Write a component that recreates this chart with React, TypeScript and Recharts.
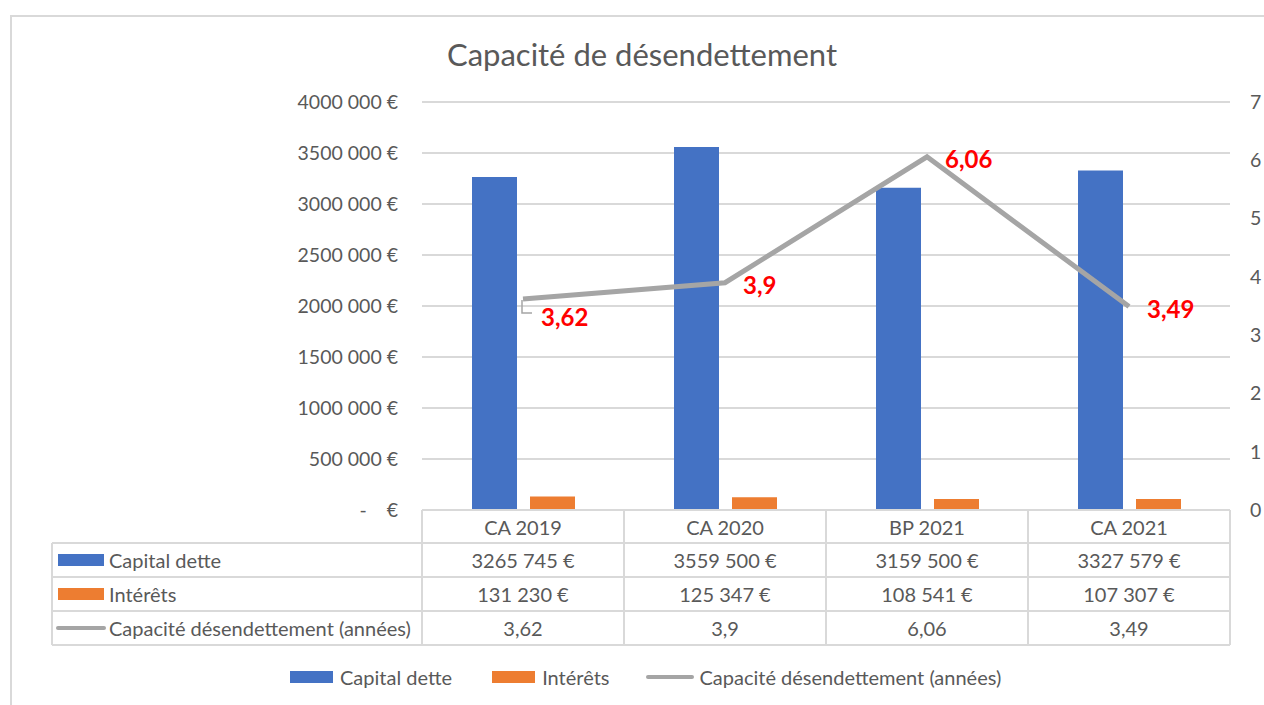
import { ComposedChart, Bar, Line, XAxis, YAxis, CartesianGrid, Legend, LabelList } from 'recharts'

const categories = ['CA 2019', 'CA 2020', 'BP 2021', 'CA 2021']
const capitalDette = [3265745, 3559500, 3159500, 3327579]
const interets = [131230, 125347, 108541, 107307]
const capacite = [3.62, 3.9, 6.06, 3.49]
const leftTicks = [0, 500000, 1000000, 1500000, 2000000, 2500000, 3000000, 3500000, 4000000]
const rightTicks = [0, 1, 2, 3, 4, 5, 6, 7]

const BLUE = '#4472c4'
const ORANGE = '#ed7d31'
const GRAY = '#a5a5a5'
const TEXT = '#595959'
const BORDER = '#d9d9d9'
const FONT = 'Lato, "Open Sans", sans-serif'

const data = categories.map((name, i) => ({
    name,
    capital: capitalDette[i],
    interets: interets[i],
    capacite: capacite[i],
}))

const euro = (n: number) => {
    if (n === 0) return '-\u00a0\u00a0\u00a0\u00a0€'
    const s = String(Math.round(n))
    return s.slice(0, -3) + ' ' + s.slice(-3) + ' €'
}

const dec = (v: number) => String(v).replace('.', ',')

const ROW_H = [33, 34, 34, 34]
const HEADER_W = 370

function TableTick(props: any) {
    const { payload, index, width } = props
    const cx = payload.coordinate
    const band = width / categories.length
    const x0 = cx - band / 2
    const x1 = cx + band / 2
    const top = 510
    const rows = [top, top + ROW_H[0], top + ROW_H[0] + ROW_H[1], top + ROW_H[0] + ROW_H[1] + ROW_H[2], top + 135]
    const values = [categories[index], euro(capitalDette[index]), euro(interets[index]), dec(capacite[index])]
    const hx = x0 - HEADER_W
    return (
        <g>
            {rows.map((ry, i) => (
                <line key={i} x1={x0} x2={x1} y1={ry} y2={ry} stroke={BORDER} strokeWidth={2} />
            ))}
            <line x1={x0} x2={x0} y1={rows[0]} y2={rows[4]} stroke={BORDER} strokeWidth={2} />
            <line x1={x1} x2={x1} y1={rows[0]} y2={rows[4]} stroke={BORDER} strokeWidth={2} />
            {values.map((v, i) => (
                <text key={i} x={cx} y={(rows[i] + rows[i + 1]) / 2} textAnchor="middle" dominantBaseline="central"
                    fill={TEXT} fontSize={20} fontFamily={FONT}>{v}</text>
            ))}
            {index === 0 && (
                <g>
                    {rows.slice(1).map((ry, i) => (
                        <line key={i} x1={hx} x2={x0} y1={ry} y2={ry} stroke={BORDER} strokeWidth={2} />
                    ))}
                    <line x1={hx} x2={hx} y1={rows[1]} y2={rows[4]} stroke={BORDER} strokeWidth={2} />
                    <rect x={hx + 6} y={(rows[1] + rows[2]) / 2 - 6} width={46} height={12} fill={BLUE} />
                    <rect x={hx + 6} y={(rows[2] + rows[3]) / 2 - 6} width={46} height={12} fill={ORANGE} />
                    <line x1={hx + 6} x2={hx + 52} y1={(rows[3] + rows[4]) / 2} y2={(rows[3] + rows[4]) / 2}
                        stroke={GRAY} strokeWidth={4} strokeLinecap="round" />
                    {['Capital dette', 'Intérêts', 'Capacité désendettement (années)'].map((t, i) => (
                        <text key={t} x={hx + 57} y={(rows[i + 1] + rows[i + 2]) / 2} dominantBaseline="central"
                            fill={TEXT} fontSize={20} fontFamily={FONT}>{t}</text>
                    ))}
                </g>
            )}
        </g>
    )
}

function CapLabel(props: any) {
    const { x, y, value, index } = props
    if (index === 0) {
        return (
            <g>
                <path d={`M${x - 1} ${y + 1} V${y + 14} H${x + 9}`} stroke={GRAY} strokeWidth={1.5} fill="none" />
                <text x={x + 18} y={y + 17} dominantBaseline="central" fill="#ff0000" fontWeight="bold"
                    fontSize={24} fontFamily={FONT}>{dec(value)}</text>
            </g>
        )
    }
    return (
        <text x={x + 18} y={y + 2} dominantBaseline="central" fill="#ff0000" fontWeight="bold"
            fontSize={24} fontFamily={FONT}>{dec(value)}</text>
    )
}

function LegendContent() {
    const item = { display: 'flex', alignItems: 'center' }
    return (
        <div style={{ display: 'flex', height: 30, alignItems: 'center', fontFamily: FONT, fontSize: 20, color: TEXT, whiteSpace: 'nowrap' }}>
            <div style={{ ...item, marginRight: 40 }}>
                <span style={{ width: 43, height: 12, background: BLUE, marginRight: 7 }} />Capital dette
            </div>
            <div style={{ ...item, marginRight: 37 }}>
                <span style={{ width: 43, height: 12, background: ORANGE, marginRight: 7 }} />Intérêts
            </div>
            <div style={item}>
                <span style={{ width: 48, height: 4, borderRadius: 2, background: GRAY, marginRight: 5 }} />Capacité désendettement (années)
            </div>
        </div>
    )
}

export default function App() {
    return (
        <div style={{ position: 'absolute', left: 0, top: 0, width: 1264, height: 705, background: '#fff', overflow: 'hidden' }}>
            <div style={{ position: 'absolute', left: 10, top: 15, width: 1300, height: 800, border: `2px solid ${BORDER}` }} />
            <div style={{ position: 'absolute', left: 0, top: 35, width: 1284, textAlign: 'center', fontFamily: FONT, fontSize: 31, color: TEXT }}>
                Capacité de désendettement
            </div>
            <div style={{ position: 'absolute', left: 0, top: 0 }}>
                <ComposedChart width={1264} height={705} data={data} margin={{ top: 102, right: 0, left: 0, bottom: 30 }}
                    barSize={45} barGap={13}>
                    <CartesianGrid vertical={false} stroke={BORDER} strokeWidth={2} yAxisId="left" />
                    <XAxis dataKey="name" height={135} axisLine={false} tickLine={false} tickSize={0} tickMargin={0}
                        interval={0} tick={<TableTick />} />
                    <YAxis yAxisId="left" width={422} domain={[0, 4000000]} ticks={leftTicks} tickFormatter={euro}
                        axisLine={false} tickLine={false} tickSize={0} tickMargin={24}
                        tick={{ fill: TEXT, fontSize: 19.5, fontFamily: FONT }} />
                    <YAxis yAxisId="right" orientation="right" width={34} domain={[0, 7]} ticks={rightTicks}
                        axisLine={false} tickLine={false} tickSize={0} tickMargin={20}
                        tick={{ fill: TEXT, fontSize: 19.5, fontFamily: FONT }} />
                    <Bar yAxisId="left" dataKey="capital" name="Capital dette" fill={BLUE} isAnimationActive={false} />
                    <Bar yAxisId="left" dataKey="interets" name="Intérêts" fill={ORANGE} isAnimationActive={false} />
                    <Line yAxisId="right" dataKey="capacite" name="Capacité désendettement (années)" stroke={GRAY}
                        strokeWidth={5} dot={false} activeDot={false} isAnimationActive={false}>
                        <LabelList dataKey="capacite" content={<CapLabel />} />
                    </Line>
                    <Legend verticalAlign="bottom" content={<LegendContent />}
                        wrapperStyle={{ top: 662, bottom: 'auto', left: 290, width: 'auto' }} />
                </ComposedChart>
            </div>
        </div>
    )
}
